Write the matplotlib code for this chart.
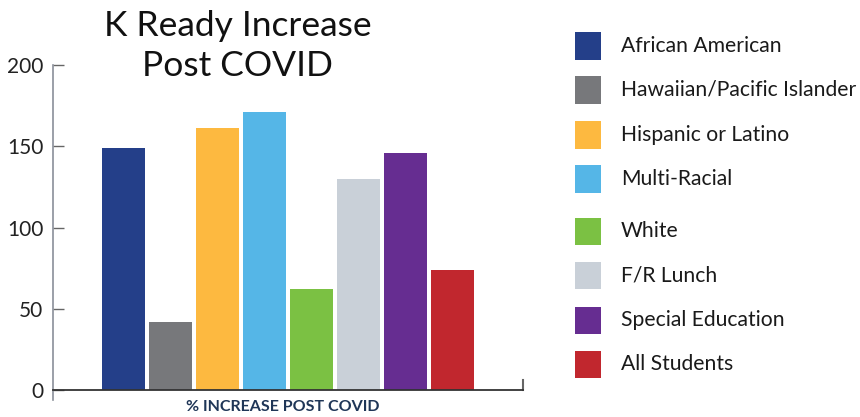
import matplotlib
matplotlib.use("Agg")
import matplotlib.pyplot as plt
from matplotlib.patches import Rectangle

plt.rcParams['font.family'] = ['Lato', 'DejaVu Sans']

categories = ["African American", "Hawaiian/Pacific Islander", "Hispanic or Latino",
              "Multi-Racial", "White", "F/R Lunch", "Special Education", "All Students"]
values = [149, 42, 161, 171, 62, 130, 146, 74]
colors = ["#243f89", "#77787b", "#fdb940", "#55b6e7", "#7bc143", "#c9d0d8", "#662d91", "#c1272e"]
yticks = [0, 50, 100, 150, 200]
title_lines = ["K Ready Increase", "Post COVID"]
xlabel = "% INCREASE POST COVID"

W, H = 860, 417
fig = plt.figure(figsize=(W / 100, H / 100), dpi=100)

# axes box in pixels: left 53, right 523, top 65 (=200), bottom 400 (=-6)
ax = fig.add_axes([53 / W, (H - 400) / H, (523 - 53) / W, (400 - 65) / H])
x = list(range(len(values)))
ax.bar(x, values, width=43 / 47, color=colors)
ax.set_xlim(-1.5, 8.5)
ax.set_ylim(-6, 200)

ax.spines['top'].set_visible(False)
ax.spines['bottom'].set_position(('data', 0))
ax.spines['bottom'].set_color('#333333')
ax.spines['bottom'].set_linewidth(1.3)
ax.spines['left'].set_color('#8a8f99')
ax.spines['left'].set_linewidth(1.2)
ax.spines['right'].set_bounds(0, 6)
ax.spines['right'].set_color('#666666')
ax.spines['right'].set_linewidth(1.5)

ax.set_xticks([])
ax.set_yticks(yticks)
ax.tick_params(axis='y', direction='in', length=8, width=1, color='#666666',
               labelsize=15, labelcolor='#222222', pad=7)

fig.text(283 / W, 1 - 407 / H, xlabel, ha='center', va='center',
         fontsize=11.5, fontweight='bold', color='#1f3657')

# two-line title, one baseline per line
for baseline, line in zip([36.5, 76.5], title_lines):
    fig.text(238 / W, 1 - baseline / H, line, ha='center', va='baseline',
             fontsize=25.5, color='#111111')

# legend entries: square swatch followed by label
swatch_y = [46, 90, 135, 179, 231, 275, 320, 364]
for cy, lab, col in zip(swatch_y, categories, colors):
    fig.add_artist(Rectangle((575 / W, 1 - (cy + 13.5) / H), 26 / W, 27 / H,
                             transform=fig.transFigure, facecolor=col, edgecolor='none'))
    fig.text(621 / W, 1 - cy / H, lab, ha='left', va='center',
             fontsize=15.2, color='#1a1a1a')

fig.savefig("out.png", dpi=100)
